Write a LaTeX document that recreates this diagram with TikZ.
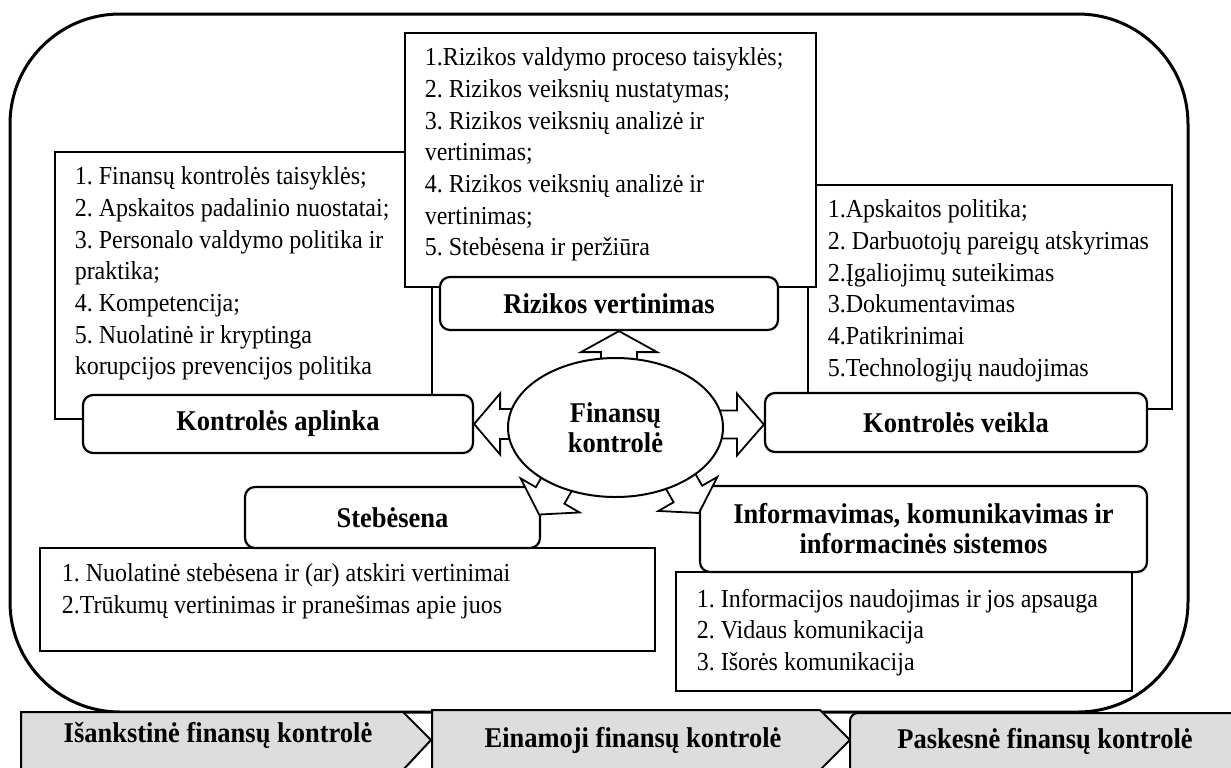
\documentclass[tikz,border=0pt]{standalone}
\usepackage{fontspec}
\setmainfont{Liberation Serif}[FakeStretch=0.926]
\usetikzlibrary{calc,shapes.geometric}
\definecolor{barfill}{RGB}{221,221,221}

% block arrow: #1 tip, #2 direction (deg), #3 length, #4 head length, #5 head width, #6 shaft width
\newcommand\blockarrow[6]{%
  \draw[flow, shift={#1}, rotate=#2]
    (0,0) -- (-#4,#5/2) -- (-#4,#6/2) -- (-#3,#6/2) -- (-#3,-#6/2)
    -- (-#4,-#6/2) -- (-#4,-#5/2) -- cycle;}

\begin{document}
\begin{tikzpicture}[x=0.5pt,y=-0.5pt,
  frame/.style={draw, line width=1.5pt, rounded corners=55pt},
  listbox/.style={draw, line width=0.65pt, fill=white, inner sep=0pt},
  listtext/.style={anchor=north west, inner sep=0pt, align=left,
    font=\frenchspacing\fontsize{12.96}{15.85}\selectfont},
  titlebox/.style={draw, line width=1.1pt, rounded corners=5pt, fill=white,
    inner sep=0pt, align=center, font=\bfseries\fontsize{14.3}{15}\selectfont},
  core/.style={draw, ellipse, line width=1pt, fill=white, inner sep=0pt,
    align=center, font=\bfseries\fontsize{14.3}{15}\selectfont,
    minimum width=107.5pt, minimum height=69.5pt},
  barbox/.style={draw, line width=1pt, fill=barfill},
  bartext/.style={anchor=base, inner sep=0pt, font=\bfseries\fontsize{14.3}{15}\selectfont},
  flow/.style={draw, line width=0.9pt, fill=white}
]
\useasboundingbox (0,0) rectangle (1231,767);
\clip (0,0) rectangle (1231,767);

% outer frame
\draw[frame] (10,14) rectangle (1188,712);

% stages of financial control
\draw[barbox] (21,712) -- (403,712) -- (431,740) -- (403,770) -- (21,770) -- cycle;
\draw[barbox] (432,710) -- (820,710) -- (850,740) -- (820,770) -- (432,770) -- cycle;
\draw[barbox, rounded corners=4pt] (850,775) -- (850,713) -- (1240,713) -- (1240,775);
\node[bartext] (b1) at (218,742) {Išankstinė finansų kontrolė};
\node[bartext] (b2) at (633,747) {Einamoji finansų kontrolė};
\node[bartext] (b3) at (1045,748) {Paskesnė finansų kontrolė};

% lists of elements
\node[listbox, minimum width=188.5pt, minimum height=133.5pt] (ll) at (243.5,285.5) {};
\node[listtext] (llt) at ($(ll.north west)+(20,15)$) {1. Finansų kontrolės taisyklės;\\
2. Apskaitos padalinio nuostatai;\\
3. Personalo valdymo politika ir\\
praktika;\\
4. Kompetencija;\\
5. Nuolatinė ir kryptinga\\
korupcijos prevencijos politika};

\node[listbox, minimum width=182pt, minimum height=112pt] (vl) at (990,297) {};
\node[listtext] (vlt) at ($(vl.north west)+(20,15)$) {1.Apskaitos politika;\\
2. Darbuotojų pareigų atskyrimas\\
2.Įgaliojimų suteikimas\\
3.Dokumentavimas\\
4.Patikrinimai\\
5.Technologijų naudojimas};

\node[listbox, minimum width=205.5pt, minimum height=127pt] (rl) at (610.5,160) {};
\node[listtext] (rlt) at ($(rl.north west)+(20,15)$) {1.Rizikos valdymo proceso taisyklės;\\
2. Rizikos veiksnių nustatymas;\\
3. Rizikos veiksnių analizė ir\\
vertinimas;\\
4. Rizikos veiksnių analizė ir\\
vertinimas;\\
5. Stebėsena ir peržiūra};

\node[listbox, minimum width=307.5pt, minimum height=51.5pt] (sl) at (347.5,599.5) {};
\node[listtext] (slt) at ($(sl.north west)+(22,16)$) {1. Nuolatinė stebėsena ir (ar) atskiri vertinimai\\
2.Trūkumų vertinimas ir pranešimas apie juos};

\node[listbox, minimum width=228pt, minimum height=59.5pt] (il) at (904,631.5) {};
\node[listtext] (ilt) at ($(il.north west)+(21,17)$) {1. Informacijos naudojimas ir jos apsauga\\
2. Vidaus komunikacija\\
3. Išorės komunikacija};

% components
\node[titlebox, minimum width=169pt, minimum height=26.5pt] (rv) at (609,303.5) {Rizikos vertinimas};
\node[titlebox, minimum width=195pt, minimum height=29pt] (ka) at (278,424) {Kontrolės aplinka};
\node[titlebox, minimum width=191pt, minimum height=29.5pt] (kv) at (956,422.5) {Kontrolės veikla};
\node[titlebox, minimum width=147.5pt, minimum height=30.5pt] (st) at (392.5,517.5) {Stebėsena};
\node[titlebox, minimum width=223.5pt, minimum height=43pt] (ik) at (923.5,529) {Informavimas, komunikavimas ir\\informacinės sistemos};

% arrows from the centre
\blockarrow{($(rv.south)+(10,0)$)}{90}{45}{21}{76}{36}
\blockarrow{(ka.east)}{180}{50}{26}{61}{30}
\blockarrow{($(kv.west)+(0,2)$)}{0}{60}{27}{62}{28}
\blockarrow{($(st.east)+(-2,-3)$)}{-120}{50}{22}{68}{33}
\blockarrow{($(ik.west)+(0,-16)$)}{-60}{50}{22}{68}{33}

\node[core] (fk) at (615.5,427.5) {Finansų\\kontrolė};
\end{tikzpicture}
\end{document}
